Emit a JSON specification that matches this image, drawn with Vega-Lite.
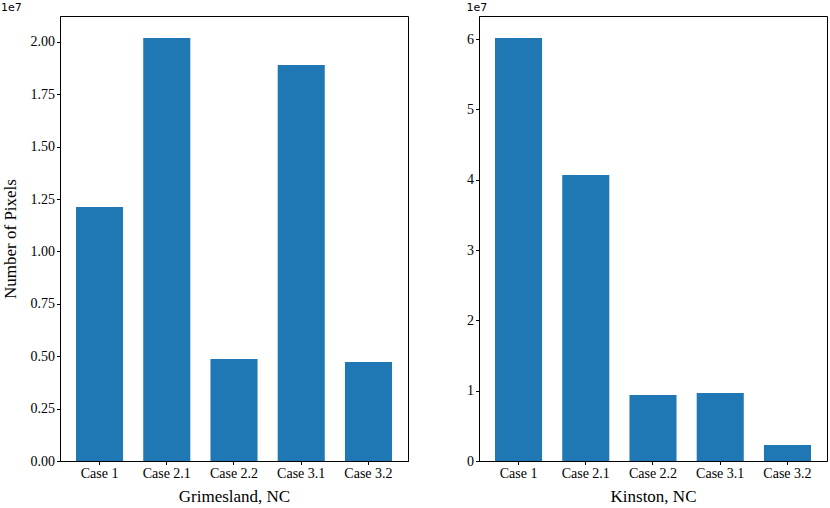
{
  "$schema": "https://vega.github.io/schema/vega-lite/v6.json",
  "background": "white",
  "padding": {"left": 0, "top": 1, "right": 2, "bottom": 0},
  "spacing": 57,
  "config": {
    "font": "Liberation Serif",
    "view": {"stroke": "black", "strokeWidth": 1},
    "axis": {
      "domainColor": "black", "tickColor": "black", "labelColor": "black", "titleColor": "black",
      "labelFont": "Liberation Serif", "titleFont": "Liberation Serif",
      "labelFontSize": 14, "titleFontSize": 17, "titleFontWeight": "normal",
      "grid": false, "tickSize": 3.5, "labelPadding": 2, "domainWidth": 1, "tickWidth": 1
    },
    "title": {"font": "DejaVu Sans", "fontSize": 11, "fontWeight": "normal", "anchor": "start", "offset": 3, "color": "black"}
  },
  "datasets": {
    "grimesland": [
      {"case": "Case 1", "pixels": 12120000},
      {"case": "Case 2.1", "pixels": 20190000},
      {"case": "Case 2.2", "pixels": 4870000},
      {"case": "Case 3.1", "pixels": 18900000},
      {"case": "Case 3.2", "pixels": 4730000}
    ],
    "kinston": [
      {"case": "Case 1", "pixels": 60170000},
      {"case": "Case 2.1", "pixels": 40700000},
      {"case": "Case 2.2", "pixels": 9400000},
      {"case": "Case 3.1", "pixels": 9670000},
      {"case": "Case 3.2", "pixels": 2280000}
    ]
  },
  "hconcat": [
    {
      "data": {"name": "grimesland"},
      "width": 348, "height": 445,
      "title": "1e7",
      "mark": {"type": "bar", "color": "#1f77b4"},
      "encoding": {
        "x": {"field": "case", "type": "nominal", "sort": null,
              "scale": {"paddingInner": 0.3, "paddingOuter": 0.238},
              "axis": {"labelAngle": 0, "title": "Grimesland, NC", "titlePadding": 8}},
        "y": {"field": "pixels", "type": "quantitative",
              "scale": {"domain": [0, 21240000], "nice": false},
              "axis": {"values": [0, 2500000, 5000000, 7500000, 10000000, 12500000, 15000000, 17500000, 20000000],
                       "labelExpr": "format(datum.value/1e7, '.2f')",
                       "title": "Number of Pixels", "titlePadding": 11}}
      }
    },
    {
      "data": {"name": "kinston"},
      "width": 348, "height": 445,
      "title": "1e7",
      "mark": {"type": "bar", "color": "#1f77b4"},
      "encoding": {
        "x": {"field": "case", "type": "nominal", "sort": null,
              "scale": {"paddingInner": 0.3, "paddingOuter": 0.238},
              "axis": {"labelAngle": 0, "title": "Kinston, NC", "titlePadding": 8}},
        "y": {"field": "pixels", "type": "quantitative",
              "scale": {"domain": [0, 63300000], "nice": false},
              "axis": {"values": [0, 10000000, 20000000, 30000000, 40000000, 50000000, 60000000],
                       "labelExpr": "format(datum.value/1e7, 'd')",
                       "title": null}}
      }
    }
  ]
}
